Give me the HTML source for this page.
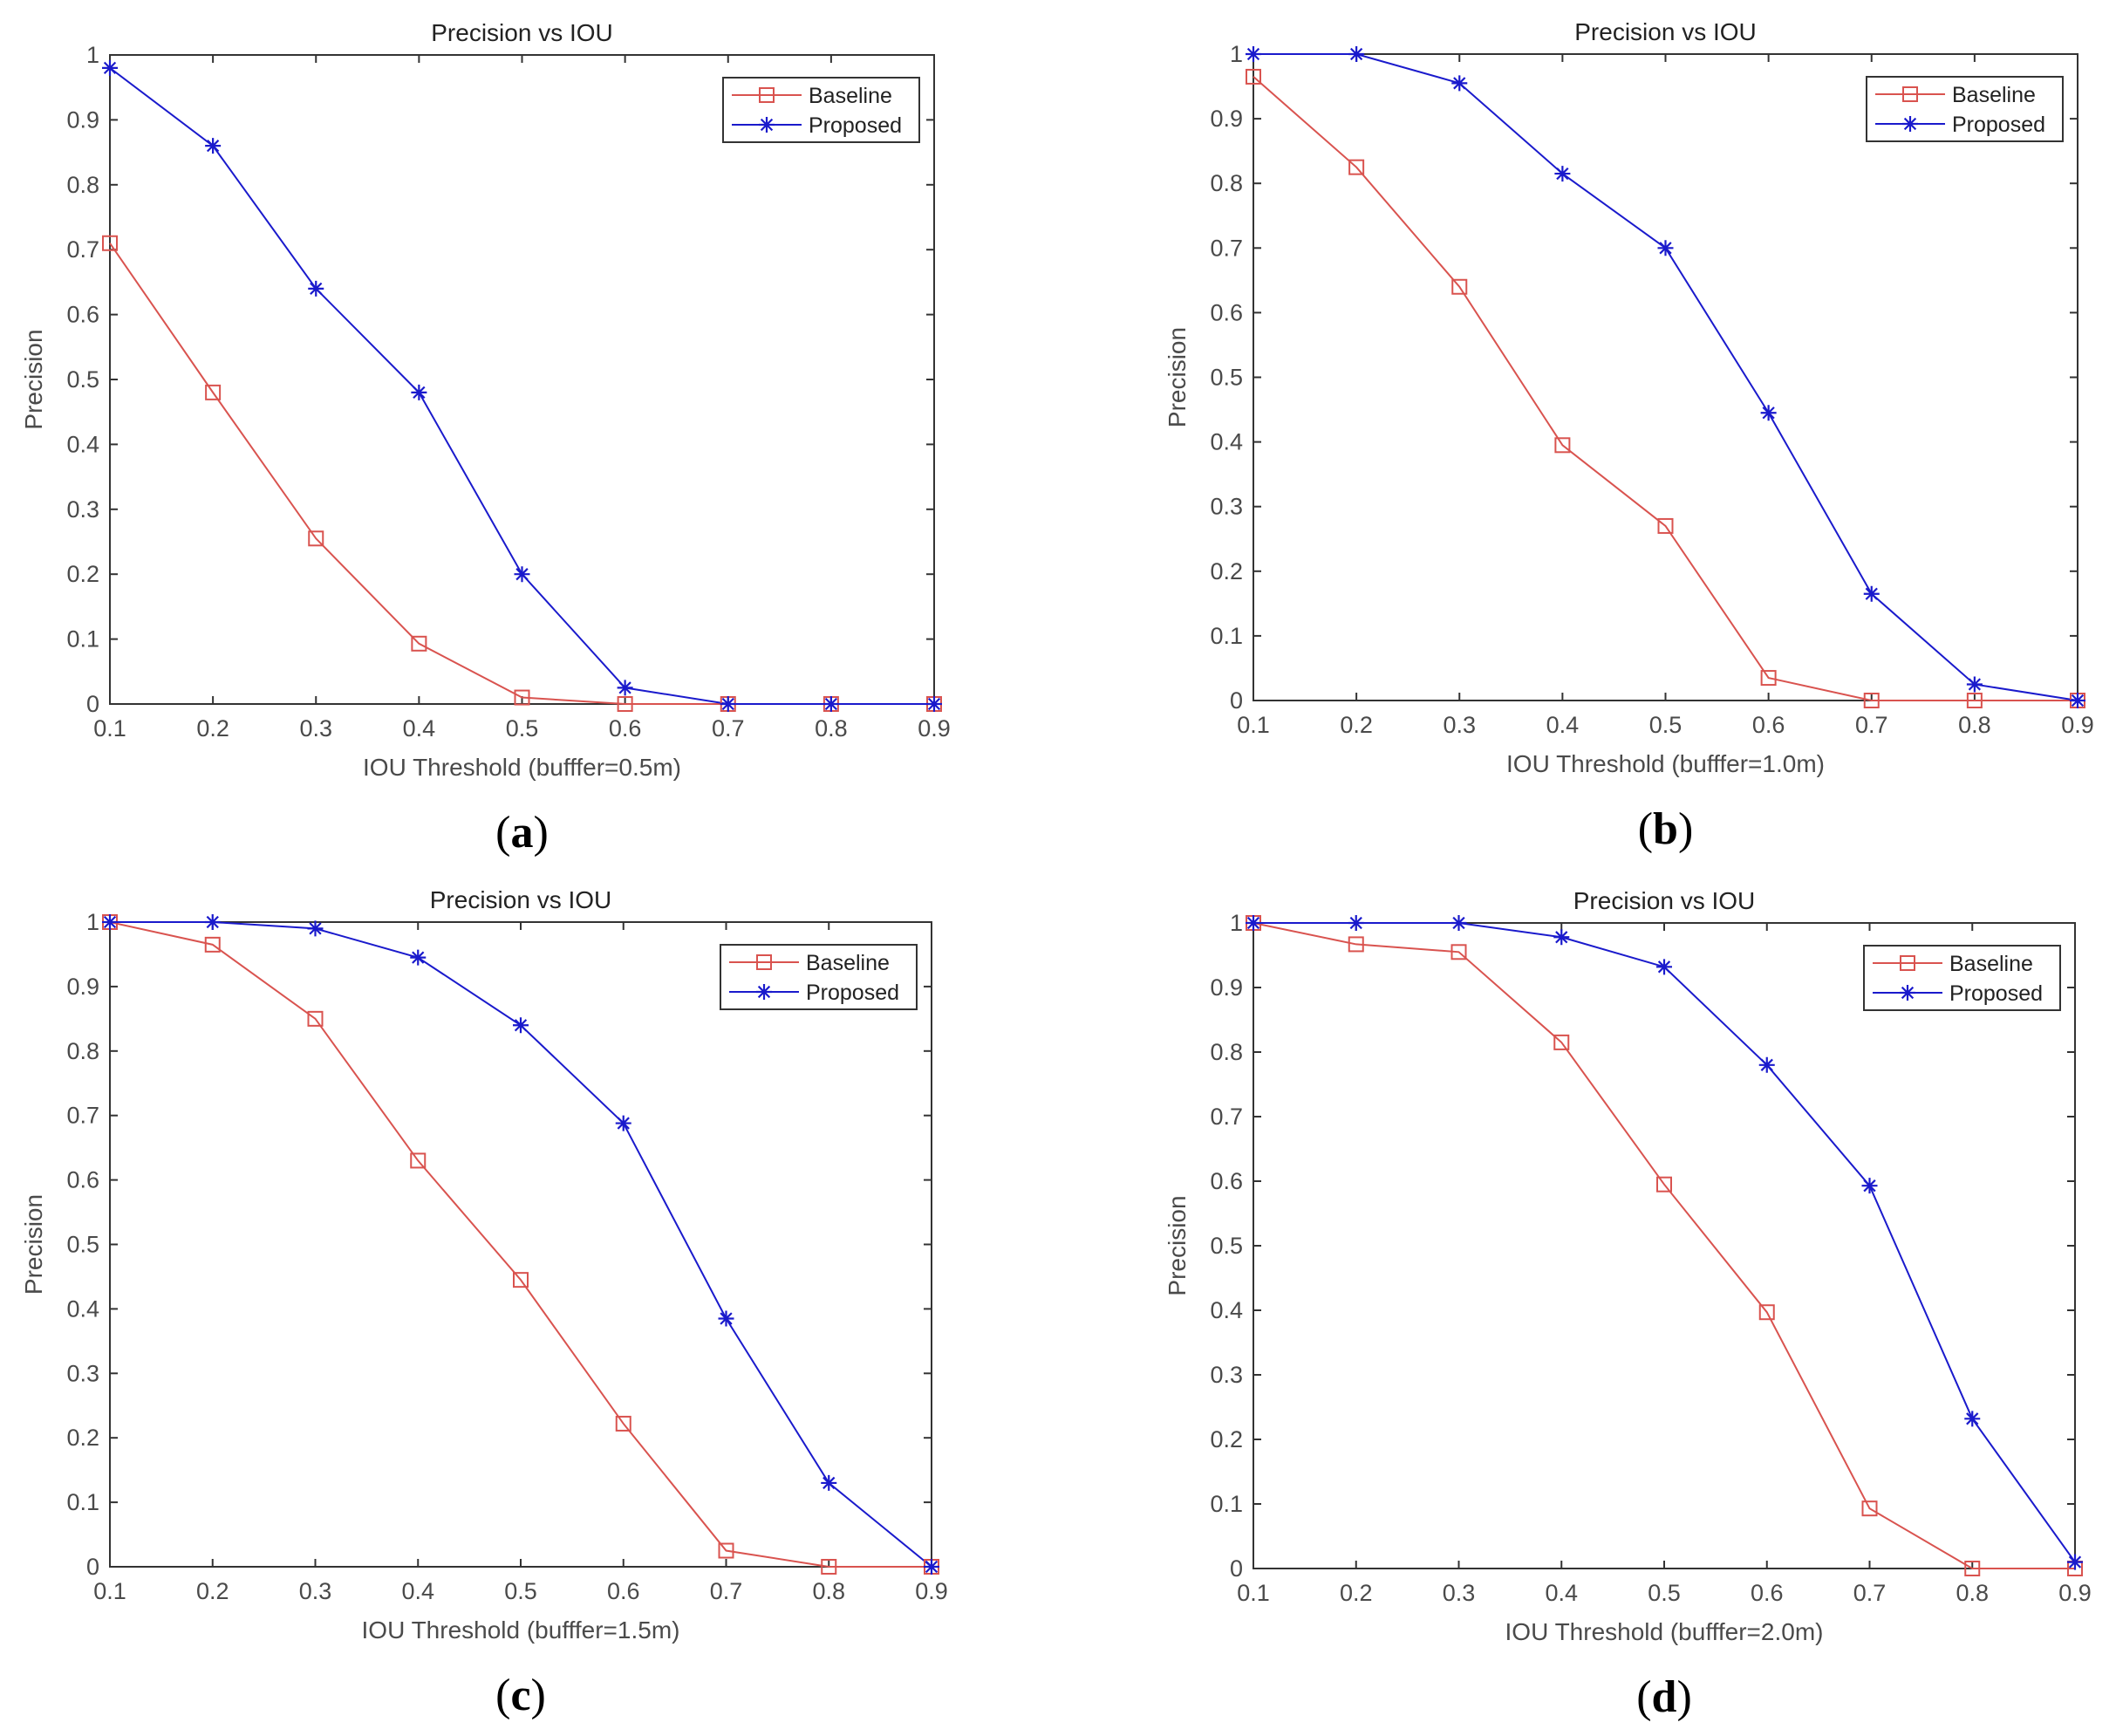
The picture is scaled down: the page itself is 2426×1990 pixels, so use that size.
<!DOCTYPE html>
<html><head><meta charset="utf-8">
<style>
html,body{margin:0;padding:0;background:#fff;}
svg{display:block;}
</style></head>
<body>
<svg id="s" width="2426" height="1990" xmlns="http://www.w3.org/2000/svg" font-family="Liberation Sans, sans-serif"></svg>
<script>
const NS="http://www.w3.org/2000/svg";
const s=document.getElementById('s');
function el(t,a,txt){const e=document.createElementNS(NS,t);for(const k in a)e.setAttribute(k,a[k]);if(txt!==undefined)e.textContent=txt;s.appendChild(e);return e;}
const panels=[
 {x0:126,y0:63,x1:1071,y1:807,lab:'a',buf:'0.5m',
  b:[.71,.48,.255,.093,.01,0,0,0,0],p:[.98,.86,.64,.48,.2,.025,0,0,0]},
 {x0:1437,y0:62,x1:2382,y1:803,lab:'b',buf:'1.0m',
  b:[.965,.825,.64,.395,.27,.035,0,0,0],p:[1,1,.955,.815,.7,.445,.165,.025,0]},
 {x0:126,y0:1057,x1:1068,y1:1796,lab:'c',buf:'1.5m',
  b:[1,.965,.85,.63,.445,.222,.025,0,0],p:[1,1,.99,.945,.84,.688,.385,.13,0]},
 {x0:1437,y0:1058,x1:2379,y1:1798,lab:'d',buf:'2.0m',
  b:[1,.967,.955,.815,.595,.397,.093,0,0],p:[1,1,1,.978,.932,.78,.593,.232,.01]}
];
const RED='#d9534f',BLUE='#1a1acc',AX='#333',TX='#4a4a4a';
function sq(x,y){el('rect',{x:x-8,y:y-8,width:16,height:16,fill:'none',stroke:RED,'stroke-width':2});}
function star(x,y){const r=9;let d='';for(let i=0;i<4;i++){const a=i*Math.PI/4;d+=`M${x-r*Math.cos(a)} ${y-r*Math.sin(a)}L${x+r*Math.cos(a)} ${y+r*Math.sin(a)}`;}el('path',{d:d,stroke:BLUE,'stroke-width':2.2,fill:'none'});}
for(const P of panels){
 const W=P.x1-P.x0,H=P.y1-P.y0;
 const X=i=>P.x0+W*i/8, Y=v=>P.y1-H*v;
 el('rect',{x:P.x0,y:P.y0,width:W,height:H,fill:'none',stroke:AX,'stroke-width':2});
 for(let i=0;i<=8;i++){const x=X(i);
  el('line',{x1:x,y1:P.y1,x2:x,y2:P.y1-9,stroke:AX,'stroke-width':2});
  el('line',{x1:x,y1:P.y0,x2:x,y2:P.y0+9,stroke:AX,'stroke-width':2});
  el('text',{x:x,y:P.y1+37,'text-anchor':'middle','font-size':27,fill:TX},'0.'+(i+1));}
 for(let j=0;j<=10;j++){const y=Y(j/10);
  el('line',{x1:P.x0,y1:y,x2:P.x0+9,y2:y,stroke:AX,'stroke-width':2});
  el('line',{x1:P.x1,y1:y,x2:P.x1-9,y2:y,stroke:AX,'stroke-width':2});
  el('text',{x:P.x0-12,y:y+9,'text-anchor':'end','font-size':27,fill:TX},j==0?'0':j==10?'1':'0.'+j);}
 el('text',{x:(P.x0+P.x1)/2,y:P.y0-16,'text-anchor':'middle','font-size':28,fill:'#222'},'Precision vs IOU');
 el('text',{x:(P.x0+P.x1)/2,y:P.y1+82,'text-anchor':'middle','font-size':28,fill:TX},'IOU Threshold (bufffer='+P.buf+')');
 el('text',{x:0,y:0,'text-anchor':'middle','font-size':28,fill:TX,transform:`translate(${P.x0-78},${(P.y0+P.y1)/2}) rotate(-90)`},'Precision');
 const c=el('text',{x:(P.x0+P.x1)/2,y:P.y1+164,'text-anchor':'middle','font-size':52,fill:'#000','font-family':'Liberation Serif, serif'});
 c.innerHTML='(<tspan font-weight="bold">'+P.lab+'</tspan>)';
 el('polyline',{points:P.b.map((v,i)=>X(i)+','+Y(v)).join(' '),fill:'none',stroke:RED,'stroke-width':2});
 el('polyline',{points:P.p.map((v,i)=>X(i)+','+Y(v)).join(' '),fill:'none',stroke:BLUE,'stroke-width':2});
 P.b.forEach((v,i)=>sq(X(i),Y(v)));
 P.p.forEach((v,i)=>star(X(i),Y(v)));
 const lx=P.x1-242,ly=P.y0+26;
 el('rect',{x:lx,y:ly,width:225,height:74,fill:'#fff',stroke:AX,'stroke-width':2});
 el('line',{x1:lx+10,y1:ly+20,x2:lx+90,y2:ly+20,stroke:RED,'stroke-width':2});sq(lx+50,ly+20);
 el('line',{x1:lx+10,y1:ly+54,x2:lx+90,y2:ly+54,stroke:BLUE,'stroke-width':2});star(lx+50,ly+54);
 el('text',{x:lx+98,y:ly+29,'font-size':25,fill:'#222'},'Baseline');
 el('text',{x:lx+98,y:ly+63,'font-size':25,fill:'#222'},'Proposed');
}
</script>
</body></html>
